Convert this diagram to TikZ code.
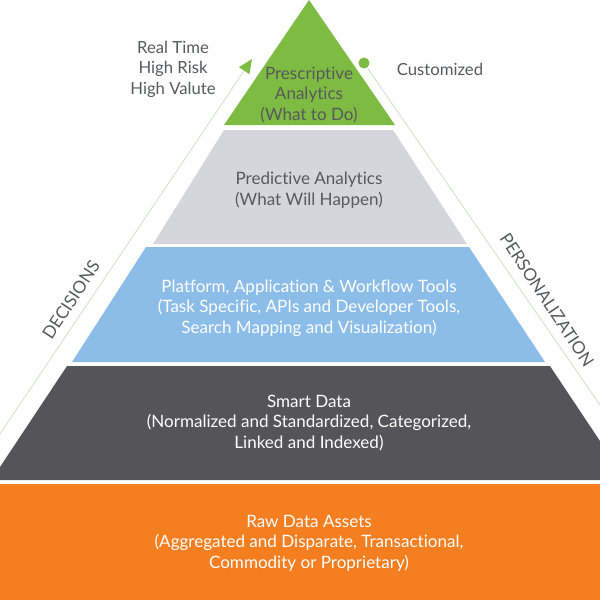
\documentclass[tikz,border=0pt]{standalone}
\usepackage{fontspec}
\setmainfont{Lato}[Ligatures=NoCommon]
\usepackage{tikz}
\usetikzlibrary{arrows.meta,calc,positioning}
\definecolor{pyrGreen}{HTML}{7DBB42}
\definecolor{pyrSilver}{HTML}{D5D6DB}
\definecolor{pyrBlue}{HTML}{8CBDE8}
\definecolor{pyrSlate}{HTML}{545459}
\definecolor{pyrOrange}{HTML}{F47E20}
\definecolor{pyrInk}{HTML}{58595B}
\definecolor{pyrRule}{HTML}{DCE3D2}

\begin{document}
\begin{tikzpicture}[
  x=0.02cm, y=-0.02cm,
  font=\fontsize{9.7}{11.7}\selectfont,
  tier/.style={align=center, text=pyrInk},
  light/.style={tier, text=white},
  side/.style={align=center, text=pyrInk, font=\fontsize{9.5}{11.7}\selectfont},
  edge/.style={side, font=\fontsize{9.8}{11}\selectfont},
  rule/.style={line width=.6pt, draw=pyrRule},
  dot/.style={circle, fill=pyrGreen, inner sep=0pt, minimum size=6.3pt}
]
  \useasboundingbox (0,0) rectangle (600,600);

  % pyramid layers, top to bottom
  \fill[pyrGreen] (309,0) -- (395,125) -- (224,125) -- cycle;
  \fill[pyrSilver] (224,130) -- (393,130) -- (467,244) -- (153,244) -- cycle;
  \fill[pyrBlue] (146,247) -- (469,247) -- (545,362) -- (72,362) -- cycle;
  \fill[pyrSlate] (67,366) -- (550,366) -- (600,441) -- (600,480) -- (0,480) -- (0,467) -- cycle;
  \fill[pyrOrange] (0,484) rectangle (600,600);

  \node[tier] (prescriptive) at (309,95) {Prescriptive\\Analytics\\(What to Do)};
  \node[tier] (predictive) at (309,190) {Predictive Analytics\\(What Will Happen)};
  \node[light] (platform) at (309,308) {Platform, Application \& Workflow Tools\\(Task Specific, APIs and Developer Tools,\\Search Mapping and Visualization)};
  \node[light] (smart) at (309,423) {Smart Data\\(Normalized and Standardized, Categorized,\\Linked and Indexed)};
  \node[light] (raw) at (309,543) {Raw Data Assets\\(Aggregated and Disparate, Transactional,\\Commodity or Proprietary)};

  % side rules
  \coordinate (leftfoot) at (0,434);
  \coordinate (lefttip) at (252,59);
  \node[dot] (custdot) at (364,63) {};
  \coordinate (rightfoot) at (600,405);
  \draw[rule, -{Triangle[length=8pt, width=7pt, color=pyrGreen]}] (leftfoot) -- (lefttip);
  \draw[rule] (custdot) -- (rightfoot);

  \node[side] (risk) at (173,69) {Real Time\\High Risk\\High Valute};
  \node[side] (custom) at (440,69) {Customized};
  \node[edge, rotate=56.6] (decisions) at (71,300) {DECISIONS};
  \node[edge, rotate=-56.6] (personal) at (547,300) {PERSONALIZATION};
\end{tikzpicture}
\end{document}
